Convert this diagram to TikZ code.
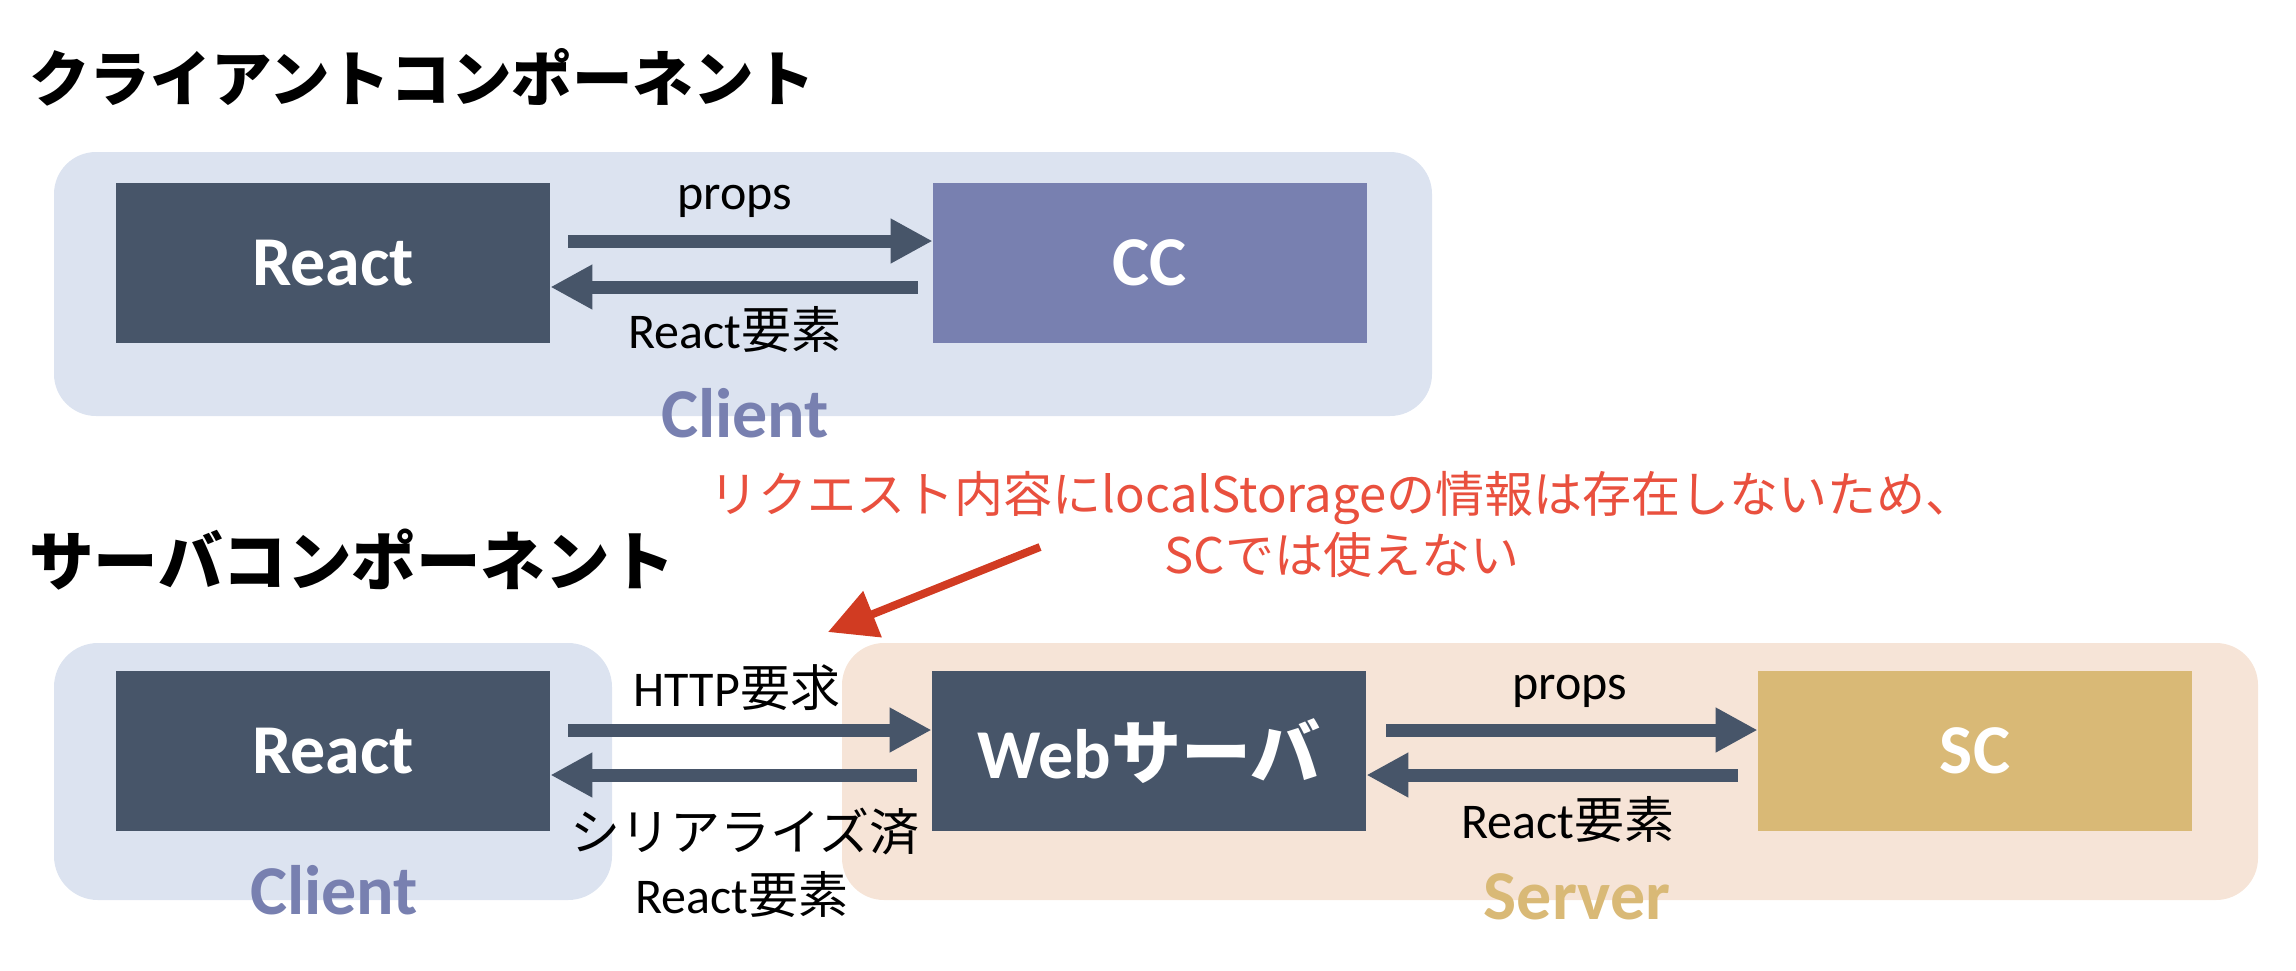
\documentclass[tikz,border=0pt]{standalone}
\usepackage{fontspec}
\setmainfont{Carlito}
\newfontfamily\jp{Noto Sans CJK JP}
\usepackage{xcolor}
\usepackage{tikz}
\usetikzlibrary{arrows.meta}

\definecolor{slate}{HTML}{475569}
\definecolor{ccblue}{HTML}{7880B0}
\definecolor{paleblue}{HTML}{DCE3F0}
\definecolor{peach}{HTML}{F6E4D7}
\definecolor{scgold}{HTML}{D9B976}
\definecolor{notered}{HTML}{E9503E}
\definecolor{arrred}{HTML}{D13B22}

\tikzset{
  blk/.style={inner sep=0pt, minimum width=217pt, minimum height=80pt, text=white,
    font=\fontsize{35}{40}\selectfont\bfseries},
  fatarr/.style={draw=slate, line width=6.5pt, -{Triangle[length=21pt,width=21pt]}},
  lbl/.style={inner sep=0pt, font=\fontsize{25}{30}\selectfont},
  zone/.style={inner sep=0pt, font=\fontsize{35}{40}\selectfont\bfseries},
  heading/.style={inner sep=0pt, anchor=west, font=\jp\fontsize{31}{36}\selectfont\bfseries},
}

\begin{document}
\begin{tikzpicture}[x=0.5pt,y=0.5pt,yscale=-1,xscale=1]
	\useasboundingbox (0,0) rectangle (2296,970);

	% Text Node
	\node (headcc) [heading, font=\jp\fontsize{30.3}{36}\selectfont\bfseries] at (29,77) {クライアントコンポーネント};

	%Rounded Rect
	\fill [paleblue, rounded corners=21pt] (54,152) rectangle (1432,416);

	%Shape: Rectangle
	\node (reacta) [blk, fill=slate] at (333,263) {React};
	%Shape: Rectangle
	\node (cc) [blk, fill=ccblue] at (1150,263) {CC};

	%Straight Lines
	\draw [fatarr, shorten <=9pt] ([yshift=-11pt]reacta.east) -- ([yshift=-11pt]cc.west);
	%Straight Lines
	\draw [fatarr, shorten <=7.5pt] ([yshift=12pt]cc.west) -- ([yshift=12pt]reacta.east);

	% Text Node
	\node (propsa) [lbl] at (735,201) {props};
	% Text Node
	\node (elema) [lbl] at (735,330) {React{\jp 要素}};
	% Text Node
	\node (clienta) [zone, text=ccblue] at (745,413) {Client};

	% Text Node
	\node (headsc) [heading, font=\jp\fontsize{32.3}{36}\selectfont\bfseries] at (29,560) {サーバコンポーネント};

	% Text Node
	\node (note) [inner sep=0pt, align=center, text=notered,
		font=\jp\fontsize{24.5}{30.5}\selectfont] at (1342,524)
		{リクエスト内容にlocalStorageの情報は存在しないため、\\SCでは使えない};
	\coordinate (notefrom) at (1040,547);
	\coordinate (noteto) at (828,632);
	%Straight Lines
	\draw [draw=arrred, line width=4pt, -{Triangle[length=24pt,width=24pt]}] (notefrom) -- (noteto);

	%Rounded Rect
	\fill [paleblue, rounded corners=22pt] (54,643) rectangle (612,900);
	%Rounded Rect
	\fill [peach, rounded corners=21pt] (842,643) rectangle (2258,900);

	%Shape: Rectangle
	\node (reactb) [blk, fill=slate] at (333,751) {React};
	%Shape: Rectangle
	\node (web) [blk, fill=slate] at (1149,751) {Web{\jp サーバ}};
	%Shape: Rectangle
	\node (sc) [blk, fill=scgold] at (1975,751) {SC};

	%Straight Lines
	\draw [fatarr, shorten <=9pt] ([yshift=-10.5pt]reactb.east) -- ([yshift=-10.5pt]web.west);
	%Straight Lines
	\draw [fatarr, shorten <=7.5pt] ([yshift=12pt]web.west) -- ([yshift=12pt]reactb.east);
	%Straight Lines
	\draw [fatarr, shorten <=10pt] ([yshift=-10.5pt]web.east) -- ([yshift=-10.5pt]sc.west);
	%Straight Lines
	\draw [fatarr, shorten <=10pt] ([yshift=12pt]sc.west) -- ([yshift=12pt]web.east);

	% Text Node
	\node (http) [lbl] at (737,688) {HTTP{\jp 要求}};
	% Text Node
	\node (serial) [lbl, font=\jp\fontsize{25}{30}\selectfont] at (745,832) {シリアライズ済};
	% Text Node
	\node (elemb) [lbl] at (742,895) {React{\jp 要素}};
	% Text Node
	\node (propsb) [lbl] at (1570,691) {props};
	% Text Node
	\node (elemc) [lbl] at (1568,820) {React{\jp 要素}};

	% Text Node
	\node (clientb) [zone, text=ccblue] at (334,890) {Client};
	% Text Node
	\node (server) [zone, text=scgold] at (1577,897) {Server};
\end{tikzpicture}
\end{document}
